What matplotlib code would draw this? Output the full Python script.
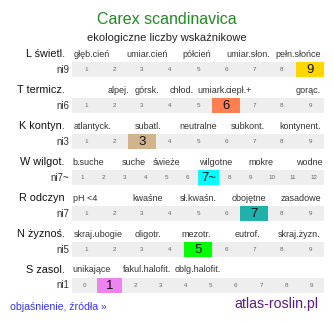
import numpy as np
from matplotlib import pyplot as plt

plt.rcParams['font.family'] = ['Liberation Sans', 'DejaVu Sans']

title = "Carex scandinavica"
subtitle = "ekologiczne liczby wskaźnikowe"
rows = ['L świetl.', 'T termicz.', 'K kontyn.', 'W wilgot.', 'R odczyn', 'N żyznoś.', 'S zasol.']
ni_labels = ['ni9', 'ni6', 'ni3', 'ni7~', 'ni7', 'ni5', 'ni1']
scales = [list(range(1, 10)), list(range(1, 10)), list(range(1, 10)), list(range(1, 13)),
          list(range(1, 10)), list(range(1, 10)), list(range(0, 10))]
values = [9, 6, 3, 7, 7, 5, 1]
value_text = ['9', '6', '3', '7~', '7', '5', '1']
colors = ['#ffd700', '#ff7f50', '#d2b48c', '#00ffff', '#20b2aa', '#00ff00', '#ee82ee']
categories = [
    ['głęb.cień', 'umiar.cień', 'półcień', 'umiar.słon.', 'pełn.słońce'],
    ['alpej.', 'górsk.', 'chłod.', 'umiark.', 'ciepł.+', 'gorąc.'],
    ['atlantyck.', 'subatl.', 'neutralne', 'subkont.', 'kontynent.'],
    ['b.suche', 'suche', 'świeże', 'wilgotne', 'mokre', 'wodne'],
    ['pH <4', 'kwaśne', 'sł.kwaśn.', 'obojętne', 'zasadowe'],
    ['skraj.ubogie', 'oligotr.', 'mezotr.', 'eutrof.', 'skraj.żyzn.'],
    ['unikające', 'fakul.halofit.', 'oblg.halofit.'],
]
# label x centres (pixels)
cat_x = [
    [92, 147, 197, 248, 298],
    [118, 147, 182, 212, 239, 308],
    [93, 148, 198, 248, 300],
    [88, 134, 167, 216, 261, 309],
    [85, 148, 198, 249, 301],
    [98, 148, 196, 247, 299],
    [92, 147, 198],
]

fig = plt.figure(figsize=(3.34, 3.22), dpi=100)
ax = fig.add_axes([0, 0, 1, 1])
ax.set_xlim(0, 334)
ax.set_ylim(322, 0)
ax.axis('off')

x0, x1 = 72, 324
h = 15
for i, row in enumerate(rows):
    top = 62 + 36 * i
    n = len(scales[i])
    w = (x1 - x0) / n
    ax.barh(top + h / 2, x1 - x0, height=h, left=x0, color='#eeeeee')
    k = scales[i].index(values[i])
    ax.barh(top + h / 2, w, height=h, left=x0 + k * w, color=colors[i])
    for j, s in enumerate(scales[i]):
        cx = x0 + (j + 0.5) * w
        if j == k:
            ax.text(cx, top + h / 2 + 0.5, value_text[i], ha='center', va='center',
                    fontsize=9.5, color='#111111')
        else:
            ax.text(cx, top + h / 2, str(s), ha='center', va='center',
                    fontsize=4.5, color='#666666')
    ly = top - 8
    ax.text(65, ly, row, ha='right', va='center', fontsize=7.8, color='#111111')
    ax.text(69, top + h / 2, ni_labels[i], ha='right', va='center', fontsize=7, color='#333333')
    for lab, cx in zip(categories[i], cat_x[i]):
        ax.text(cx, ly, lab, ha='center', va='center', fontsize=6.5, color='#333333')

ax.text(167, 19, title, ha='center', va='center', fontsize=11.5, color='#1f8b1f')
ax.text(167, 38, subtitle, ha='center', va='center', fontsize=8, color='#222222')
ax.text(10, 307, 'objaśnienie, źródła »', ha='left', va='center', fontsize=7.6, color='#3333ff')
ax.text(318, 304, 'atlas-roslin.pl', ha='right', va='center', fontsize=10.2, color='#5b1a8b')

fig.savefig('out.png', dpi=100)
